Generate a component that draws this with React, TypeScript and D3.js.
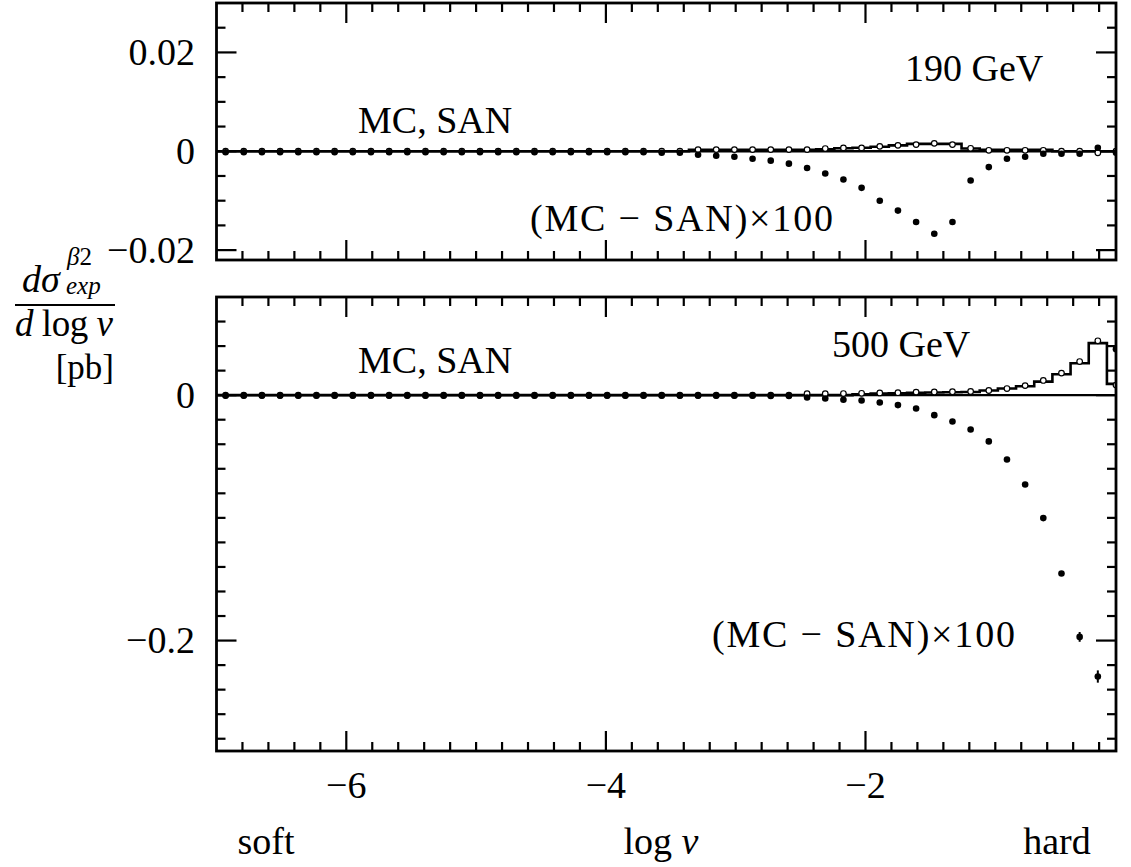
import React from "react";
import * as d3 from "d3";

// bin centres in log v (50 bins of width 0.14 from -7 to 0)
const logV = [
  -6.93, -6.79, -6.65, -6.51, -6.37, -6.23, -6.09, -5.95, -5.81, -5.67,
  -5.53, -5.39, -5.25, -5.11, -4.97, -4.83, -4.69, -4.55, -4.41, -4.27,
  -4.13, -3.99, -3.85, -3.71, -3.57, -3.43, -3.29, -3.15, -3.01, -2.87,
  -2.73, -2.59, -2.45, -2.31, -2.17, -2.03, -1.89, -1.75, -1.61, -1.47,
  -1.33, -1.19, -1.05, -0.91, -0.77, -0.63, -0.49, -0.35, -0.21, -0.07,
];
const halfBin = 0.07;

// 190 GeV panel
const topMc = [
  0, 0, 0, 0, 0, 0, 0, 0, 0, 0,
  0, 0, 0, 0, 0, 0, 0, 0, 0, 0,
  0, 0, 0, 0, 0, 0, 0.0003, 0.0003, 0.0003, 0.0003,
  0.0003, 0.0003, 0.0003, 0.0004, 0.0006, 0.0007, 0.0009, 0.0012, 0.0015, 0.0015,
  0.0015, 0.00055, 0.0003, 0.0003, 0.0003, 0.0003, 0, 0, 0, 0,
];
const topSan = [
  0, 0, 0, 0, 0, 0, 0, 0, 0, 0,
  0, 0, 0, 0, 0, 0, 0, 0, 0, 0,
  0, 0, 0, 0, 0, 0, 0.00034, 0.00034, 0.00034, 0.00034,
  0.00034, 0.00034, 0.00034, 0.00055, 0.00068, 0.00068, 0.001, 0.0012, 0.00135, 0.0016,
  0.00135, 0.0006, 0.0002, 0.0002, 0.0002, 0.0002, 0, 0, -0.0003, 0,
];
const topDiff = [
  -0.0002, -0.0002, -0.0002, -0.0002, -0.0002, -0.0002, -0.0002, -0.0002, -0.0002, -0.0002,
  -0.0002, -0.0002, -0.0002, -0.0002, -0.0002, -0.0002, -0.0002, -0.0002, -0.0002, -0.0002,
  -0.0002, -0.0002, -0.0002, -0.0002, -0.0003, -0.0003, -0.0007, -0.0009, -0.0011, -0.0015,
  -0.0019, -0.0025, -0.0034, -0.0045, -0.0057, -0.0074, -0.01, -0.012, -0.0143, -0.0167,
  -0.0143, -0.0059, -0.0032, -0.0015, -0.0011, -0.0005, -0.0005, -0.0005, 0.0007, -0.0003,
];
const topErr = [
  0, 0, 0, 0, 0, 0, 0, 0, 0, 0,
  0, 0, 0, 0, 0, 0, 0, 0, 0, 0,
  0, 0, 0, 0, 0, 0, 0, 0, 0, 0,
  0, 0, 0, 0, 0, 0, 0, 0, 0, 0,
  0, 0, 0, 0, 0, 0, 0, 0, 0.0005, 0,
];

// 500 GeV panel
const botMc = [
  0, 0, 0, 0, 0, 0, 0, 0, 0, 0,
  0, 0, 0, 0, 0, 0, 0, 0, 0, 0,
  0, 0, 0, 0, 0, 0, 0, 0, 0, 0,
  0, 0, 0, 0, 0, 0.0008, 0.0013, 0.0016, 0.002, 0.0022,
  0.0024, 0.0026, 0.0038, 0.0054, 0.0073, 0.011, 0.017, 0.026, 0.0424, 0.0092,
];
const botSan = [
  0, 0, 0, 0, 0, 0, 0, 0, 0, 0,
  0, 0, 0, 0, 0, 0, 0, 0, 0, 0,
  0, 0, 0, 0, 0, 0, 0, 0, 0, 0,
  0, 0, 0.0012, 0.0012, 0.0013, 0.0015, 0.0018, 0.002, 0.0025, 0.0026,
  0.0028, 0.003, 0.0038, 0.0054, 0.0078, 0.012, 0.018, 0.0274, 0.0443, 0.0082,
];
const botDiff = [
  -0.0005, -0.0005, -0.0005, -0.0005, -0.0005, -0.0005, -0.0005, -0.0005, -0.0005, -0.0005,
  -0.0005, -0.0005, -0.0005, -0.0005, -0.0005, -0.0005, -0.0005, -0.0005, -0.0005, -0.0005,
  -0.0005, -0.0005, -0.0005, -0.0005, -0.0005, -0.0005, -0.0005, -0.0005, -0.0005, -0.0005,
  -0.0006, -0.0006, -0.0019, -0.0027, -0.0038, -0.0044, -0.006, -0.0081, -0.0109, -0.0163,
  -0.0215, -0.028, -0.0377, -0.0524, -0.0728, -0.1002, -0.1453, -0.197, -0.2293, 0.0375,
];
const botErr = [
  0, 0, 0, 0, 0, 0, 0, 0, 0, 0,
  0, 0, 0, 0, 0, 0, 0, 0, 0, 0,
  0, 0, 0, 0, 0, 0, 0, 0, 0, 0,
  0, 0, 0, 0, 0, 0, 0, 0, 0, 0,
  0, 0, 0, 0, 0, 0, 0.002, 0.004, 0.005, 0.002,
];

const xMajor = [-6, -4, -2];
const xMajorLabels = ["−6", "−4", "−2"];
const topYMajor = [-0.02, 0, 0.02];
const topYLabels = ["−0.02", "0", "0.02"];
const botYMajor = [-0.2, 0];
const botYLabels = ["−0.2", "0"];

const W = 1131;
const H = 867;
const left = 216.5;
const right = 1116;
const FONT = "'Liberation Serif', 'Times New Roman', serif";

const x = d3.scaleLinear().domain([-7, -0.07]).range([left, right]);
const xMinor = d3.range(-34, 0).map((i) => i * 0.2);

const Panel = ({ id, top, bottom, domain, step, majors, labels, mc, san, diff, err }) => {
  const y = d3.scaleLinear().domain(domain).range([bottom, top]);
  const minor = d3
    .range(Math.ceil(domain[0] / step), Math.floor(domain[1] / step) + 1)
    .map((i) => i * step)
    .filter((v) => Math.abs(y(v) - top) > 2 && Math.abs(y(v) - bottom) > 2);

  const histPts = logV.flatMap((c, i) => [
    [c - halfBin, mc[i]],
    [c + halfBin, mc[i]],
  ]);
  const hist = d3
    .line()
    .x((d) => x(d[0]))
    .y((d) => y(d[1]))(histPts);

  const tMaj = 20;
  const tMin = 9;

  return (
    <g>
      <defs>
        <clipPath id={id}>
          <rect x={left} y={top} width={right - left} height={bottom - top} />
        </clipPath>
      </defs>
      {/* x ticks top and bottom */}
      {xMinor.map((v, i) => {
        const len = xMajor.includes(Math.round(v * 10) / 10) ? tMaj : tMin;
        return (
          <g key={"xt" + i} stroke="#000" strokeWidth={2.2}>
            <line x1={x(v)} x2={x(v)} y1={bottom} y2={bottom - len} />
            <line x1={x(v)} x2={x(v)} y1={top} y2={top + len} />
          </g>
        );
      })}
      {/* y ticks left and right */}
      {minor.map((v, i) => {
        const len = majors.some((m) => Math.abs(m - v) < 1e-9) ? tMaj : tMin;
        return (
          <g key={"yt" + i} stroke="#000" strokeWidth={2.2}>
            <line x1={left} x2={left + len} y1={y(v)} y2={y(v)} />
            <line x1={right} x2={right - len} y1={y(v)} y2={y(v)} />
          </g>
        );
      })}
      {majors.map((v, i) => (
        <text
          key={"yl" + i}
          x={195}
          y={y(v) + 12.5}
          textAnchor="end"
          fontSize={38}
        >
          {labels[i]}
        </text>
      ))}
      <g clipPath={`url(#${id})`}>
        <line x1={left} x2={right} y1={y(0)} y2={y(0)} stroke="#000" strokeWidth={2.4} />
        <path d={hist} fill="none" stroke="#000" strokeWidth={2.6} />
        {san.map((v, i) => (
          <circle
            key={"s" + i}
            cx={x(logV[i])}
            cy={y(v)}
            r={2.8}
            fill="#fff"
            stroke="#000"
            strokeWidth={1.2}
          />
        ))}
        {diff.map((v, i) =>
          err[i] > 0 ? (
            <line
              key={"e" + i}
              x1={x(logV[i])}
              x2={x(logV[i])}
              y1={y(v - err[i])}
              y2={y(v + err[i])}
              stroke="#000"
              strokeWidth={2}
            />
          ) : null
        )}
        {diff.map((v, i) => (
          <circle key={"d" + i} cx={x(logV[i])} cy={y(v)} r={3.3} fill="#000" />
        ))}
      </g>
      <rect
        x={left}
        y={top}
        width={right - left}
        height={bottom - top}
        fill="none"
        stroke="#000"
        strokeWidth={2.8}
      />
    </g>
  );
};

export default function App() {
  return (
    <svg
      width={W}
      height={H}
      style={{ position: "absolute", left: 0, top: 0, background: "#fff" }}
      fontFamily={FONT}
      fill="#000"
    >
      <Panel
        id="clipTop"
        top={3}
        bottom={260}
        domain={[-0.022, 0.03]}
        step={0.005}
        majors={topYMajor}
        labels={topYLabels}
        mc={topMc}
        san={topSan}
        diff={topDiff}
        err={topErr}
      />
      <Panel
        id="clipBot"
        top={297}
        bottom={751}
        domain={[-0.29, 0.08]}
        step={0.02}
        majors={botYMajor}
        labels={botYLabels}
        mc={botMc}
        san={botSan}
        diff={botDiff}
        err={botErr}
      />

      {/* panel annotations */}
      <text x={905} y={81} fontSize={38}>190 GeV</text>
      <text x={358} y={133} fontSize={38}>MC, SAN</text>
      <text x={530} y={231} fontSize={38} textLength={303} lengthAdjust="spacing">
        (MC − SAN)×100
      </text>
      <text x={832} y={357} fontSize={38}>500 GeV</text>
      <text x={358} y={373} fontSize={38}>MC, SAN</text>
      <text x={712} y={647} fontSize={38} textLength={303} lengthAdjust="spacing">
        (MC − SAN)×100
      </text>

      {/* x axis labels */}
      {xMajor.map((v, i) => (
        <text key={"xl" + i} x={x(v)} y={798} textAnchor="middle" fontSize={38}>
          {xMajorLabels[i]}
        </text>
      ))}
      <text x={266} y={854} textAnchor="middle" fontSize={38}>soft</text>
      <text x={661} y={854} textAnchor="middle" fontSize={38}>
        log <tspan fontStyle="italic">v</tspan>
      </text>
      <text x={1057} y={854} textAnchor="middle" fontSize={38}>hard</text>

      {/* y axis label */}
      <text x={22} y={292} fontSize={38} fontStyle="italic">dσ</text>
      <text x={67} y={265} fontSize={25}>
        <tspan fontStyle="italic">β</tspan>2
      </text>
      <text x={66} y={294} fontSize={25} fontStyle="italic">exp</text>
      <line x1={15} x2={115} y1={305} y2={305} stroke="#000" strokeWidth={2.2} />
      <text x={15} y={336} fontSize={37} textLength={98} lengthAdjust="spacing">
        <tspan fontStyle="italic">d</tspan> log <tspan fontStyle="italic">v</tspan>
      </text>
      <text x={114} y={379} fontSize={35} textAnchor="end">[pb]</text>
    </svg>
  );
}
